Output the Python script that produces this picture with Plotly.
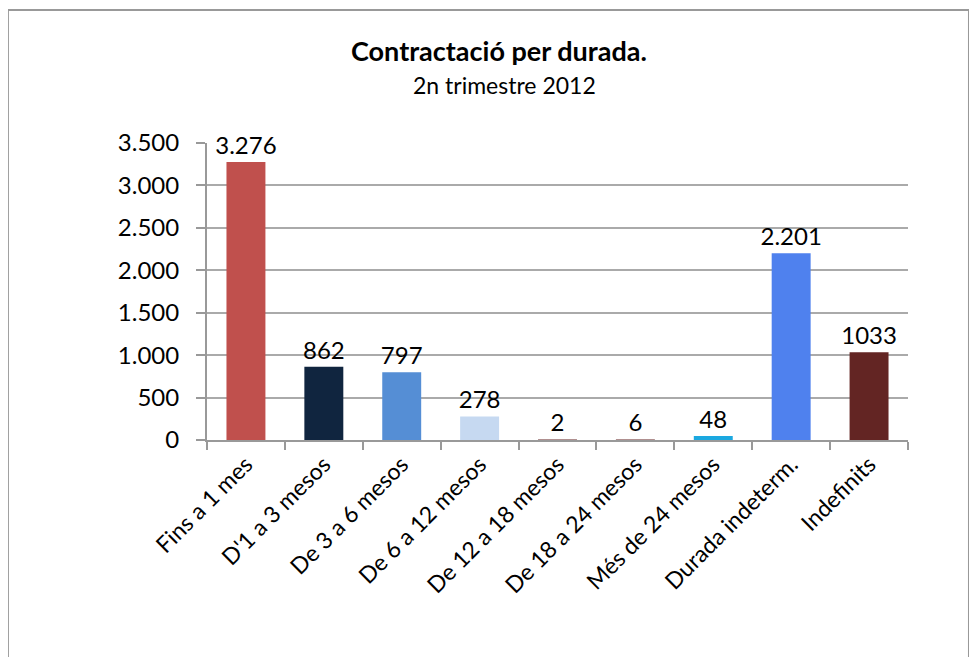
import plotly.graph_objects as go

# Contractació per durada, 2n trimestre 2012
categories = ["Fins a 1 mes", "D'1 a 3 mesos", "De 3 a 6 mesos", "De 6 a 12 mesos",
              "De 12 a 18 mesos", "De 18 a 24 mesos", "Més de 24 mesos",
              "Durada indeterm.", "Indefinits"]
values = [3276, 862, 797, 278, 2, 6, 48, 2201, 1033]
value_labels = ["3.276", "862", "797", "278", "2", "6", "48", "2.201", "1033"]
bar_colors = ["#C0504D", "#10253F", "#558ED5", "#C6D9F1", "#B09090",
              "#B09090", "#1BA8E0", "#4F81EE", "#632523"]
y_ticks = [0, 500, 1000, 1500, 2000, 2500, 3000, 3500]

font_name = "Lato, Open Sans, sans-serif"

fig = go.Figure(go.Bar(
    x=categories,
    y=values,
    text=value_labels,
    textposition="outside",
    constraintext="none",
    textfont=dict(size=24, color="black"),
    marker=dict(color=bar_colors, line=dict(width=0)),
    cliponaxis=False,
    hoverinfo="x+y",
))

# page has an 8px body margin, so the figure is a bit smaller than the window
fig.update_layout(
    width=969, height=649,
    paper_bgcolor="white", plot_bgcolor="white",
    font=dict(family=font_name, color="black"),
    separators=",.",
    bargap=0.5,
    showlegend=False,
    margin=dict(l=199, r=69, t=135, b=217),
)

# title and subtitle (centred on the whole chart, not the plot area)
fig.add_annotation(text="<b>Contractació per durada.</b>", xref="paper", yref="paper",
                   x=0.4165, y=1.313, yanchor="middle", showarrow=False,
                   font=dict(size=27, family=font_name, color="black"))
fig.add_annotation(text="2n trimestre 2012", xref="paper", yref="paper",
                   x=0.424, y=1.195, yanchor="middle", showarrow=False,
                   font=dict(size=23, family=font_name, color="black"))

fig.update_xaxes(
    type="category",
    tickangle=-45,
    tickfont=dict(size=23, family=font_name),
    ticks="outside", tickson="boundaries", ticklen=8, tickcolor="#999999", tickwidth=2,
    showline=True, linecolor="#999999", linewidth=2,
    showgrid=False,
)

fig.update_yaxes(
    range=[0, 3500],
    tickvals=y_ticks,
    tickformat=",d",
    tickfont=dict(size=24, family=font_name),
    ticks="outside", ticklen=9, tickcolor="#999999", tickwidth=2,
    ticklabelstandoff=12,
    showline=True, linecolor="#999999", linewidth=2,
    showgrid=True, gridcolor="#AAAAAA", gridwidth=2,
    zeroline=False,
)

# outer chart frame
fig.add_shape(type="rect", xref="paper", yref="paper",
              x0=-0.284, x1=1.087, y0=-0.768, y1=1.448,
              line=dict(color="#999999", width=2))

fig.write_html("out.html")
